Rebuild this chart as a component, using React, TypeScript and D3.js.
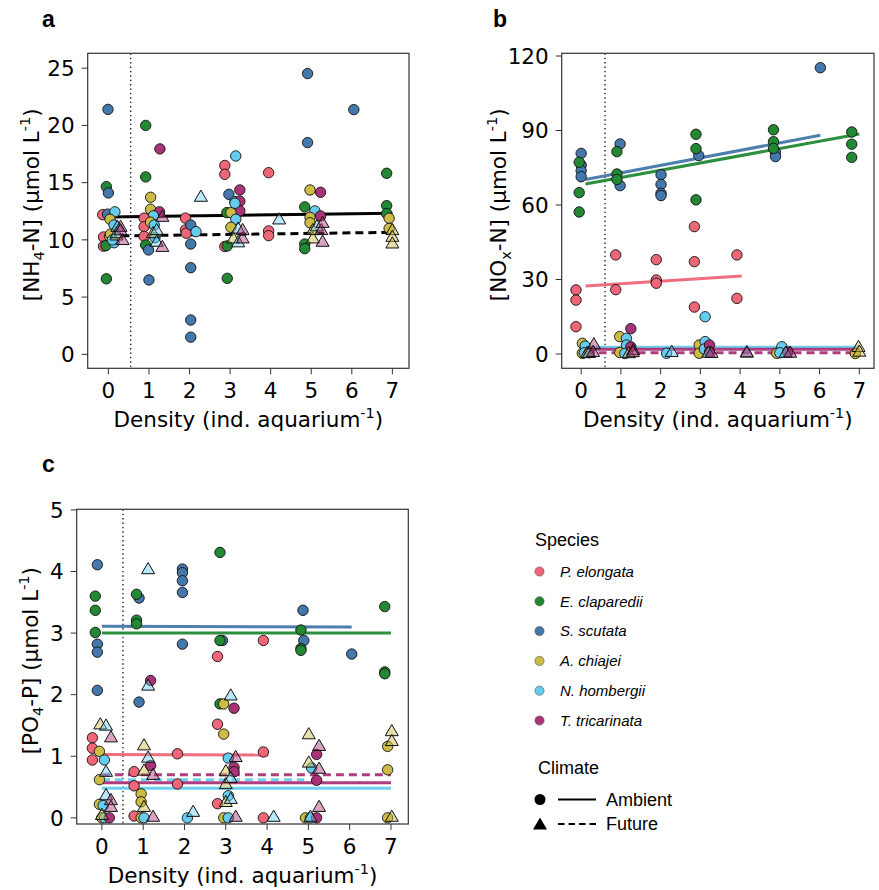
import React from "react";
import * as d3 from "d3";

// Species (order used as index in point arrays)
const speciesNames = ["P. elongata", "E. claparedii", "S. scutata", "A. chiajei", "N. hombergii", "T. tricarinata"];
const speciesColors = ["#EE6677", "#228833", "#4477AA", "#CCBB44", "#66CCEE", "#AA3377"];
const densityTicks = [0, 1, 2, 3, 4, 5, 6, 7];

// [species, density (jittered), value]
const nh4Ambient: [number, number, number][] = [
  [2, -0.01, 21.4], [1, -0.05, 14.65], [2, 0, 14.1], [1, -0.05, 6.6], [0, -0.14, 12.2], [2, -0.02, 12.25], [4, 0.16, 12.45],
  [3, 0.04, 11.8], [4, 0.14, 11.3], [0, -0.12, 10.25], [3, 0.03, 10.3], [0, -0.12, 9.45], [1, -0.06, 9.5], [4, 0.14, 9.75],
  [3, 0.05, 10.5], [4, 0.1, 10.0],
  [1, 0.92, 20.0], [1, 0.92, 15.5], [5, 1.27, 17.95], [3, 1.04, 13.72], [3, 1.04, 12.67], [5, 1.26, 12.45], [4, 1.11, 12.1],
  [0, 0.88, 11.9], [0, 0.88, 11.15], [3, 1.04, 11.55], [4, 1.13, 11.3], [0, 0.88, 10.3], [1, 0.92, 9.55], [2, 0.99, 9.12],
  [2, 1.0, 6.5], [4, 1.15, 10.2],
  [0, 1.9, 11.9], [0, 1.9, 10.87], [0, 1.92, 10.58], [2, 2.03, 11.3], [4, 2.16, 10.72], [2, 2.03, 9.64], [2, 2.03, 7.57],
  [2, 2.03, 3.0], [2, 2.03, 1.5],
  [0, 2.87, 16.5], [0, 2.87, 15.73], [4, 3.14, 17.33], [2, 2.97, 13.98], [4, 3.12, 13.34], [5, 3.24, 14.36], [5, 3.24, 13.37],
  [5, 3.24, 12.53], [1, 2.92, 12.38], [3, 3.02, 12.38], [4, 3.14, 11.8], [3, 3.02, 11.1], [0, 2.87, 9.42], [1, 2.93, 9.47],
  [1, 2.93, 6.64], [4, 3.12, 13.2],
  [0, 3.95, 15.87], [0, 3.95, 10.78], [0, 3.95, 10.37],
  [2, 4.91, 24.53], [2, 4.91, 18.5], [3, 4.97, 14.36], [5, 5.23, 14.16], [1, 4.84, 12.88], [4, 5.09, 12.53], [3, 4.97, 11.97],
  [5, 5.23, 12.09], [3, 4.97, 11.5], [1, 4.84, 9.64], [1, 4.84, 9.23],
  [2, 6.05, 21.38],
  [1, 6.86, 15.82], [1, 6.86, 12.99], [1, 6.86, 12.3], [3, 6.92, 11.89], [3, 6.92, 11.0],
];
const nh4Future: [number, number, number][] = [
  [3, 0.2, 10.4], [4, 0.2, 10.6], [4, 0.22, 11.15], [5, 0.3, 11.15], [5, 0.3, 10.85], [5, 0.35, 10.0],
  [3, 1.1, 10.6], [5, 1.33, 12.03], [4, 1.19, 10.87], [4, 1.19, 9.85], [5, 1.33, 9.4],
  [4, 2.28, 13.78],
  [3, 3.08, 10.14], [4, 3.2, 9.8], [4, 3.2, 11.0], [5, 3.31, 10.14], [5, 3.31, 10.87],
  [4, 4.21, 11.8],
  [3, 5.04, 10.14], [3, 5.04, 10.87], [4, 5.14, 11.2], [5, 5.25, 10.87], [5, 5.28, 9.85], [5, 5.28, 11.5],
  [3, 7.0, 10.87], [3, 7.0, 10.28], [3, 7.0, 9.7],
];
const noxAmbient: [number, number, number][] = [
  [2, 0, 80.8], [2, 0, 76.1], [2, 0, 73.8], [2, 0, 71.4], [2, 0.98, 84.6], [2, 0.98, 67.8], [2, 2.01, 72.2], [2, 2.01, 68.3],
  [2, 2.01, 64.7], [2, 2.01, 63.8], [2, 2.96, 79.9], [2, 4.89, 81.2], [2, 4.89, 79.5], [2, 6.02, 115.3],
  [1, -0.05, 77.2], [1, -0.05, 65.0], [1, -0.05, 57.2], [1, 0.9, 81.5], [1, 0.9, 72.5], [1, 0.9, 70.3], [1, 2.89, 88.5],
  [1, 2.89, 82.7], [1, 2.89, 62.1], [1, 4.84, 90.3], [1, 4.84, 85.5], [1, 4.84, 82.8], [1, 6.81, 89.4], [1, 6.81, 84.5], [1, 6.81, 79.2],
  [0, -0.13, 25.8], [0, -0.13, 21.7], [0, -0.13, 11.0], [0, 0.87, 39.9], [0, 0.87, 25.9], [0, 1.89, 38.0], [0, 1.89, 29.8],
  [0, 1.89, 28.5], [0, 2.85, 51.3], [0, 2.85, 37.2], [0, 2.85, 18.9], [0, 3.92, 39.9], [0, 3.92, 22.4],
  [3, 0.03, 4.3], [3, 0.03, 0.3], [3, 0.97, 7.0], [3, 0.97, 0.6], [3, 2.97, 3.6], [3, 2.97, 0.3], [3, 4.92, 0.3], [3, 6.9, 0.2],
  [4, 3.12, 15.0], [4, 0.1, 3.2], [4, 0.08, 0.5], [4, 1.14, 6.3], [4, 1.14, 3.6], [4, 1.1, 0.2], [4, 2.15, 0.3], [4, 3.12, 5.0],
  [4, 3.1, 2.0], [4, 5.05, 2.9], [4, 5.0, 0.5],
  [5, 1.25, 10.2], [5, 1.25, 2.9], [5, 3.23, 3.6], [5, 3.23, 0.8], [5, 0.2, 0.5], [5, 5.2, 0.8],
];
const noxFuture: [number, number, number][] = [
  [3, 0.15, 0.5], [4, 0.2, 0.5], [5, 0.32, 4.0], [5, 0.3, 0.9],
  [3, 1.2, 0.4], [5, 1.31, 1.6], [5, 1.3, 0.8],
  [4, 2.28, 0.9],
  [4, 3.2, 0.6], [5, 3.28, 0.5],
  [4, 4.17, 0.7], [5, 4.17, 0.7],
  [4, 5.15, 0.6], [5, 5.26, 0.6],
  [3, 6.98, 2.9], [3, 7.0, 1.0],
];
const po4Ambient: [number, number, number][] = [
  [2, -0.11, 4.11], [2, -0.11, 2.82], [2, -0.11, 2.69], [2, -0.11, 2.07], [2, 0.9, 3.57], [2, 0.9, 1.88], [2, 1.95, 4.04],
  [2, 1.95, 3.98], [2, 1.95, 3.85], [2, 1.95, 3.66], [2, 1.95, 2.82], [2, 2.92, 2.88], [2, 4.87, 3.37], [2, 4.89, 2.88], [2, 6.05, 2.66],
  [1, -0.16, 3.6], [1, -0.16, 3.37], [1, -0.16, 3.01], [1, 0.84, 3.63], [1, 0.84, 3.21], [1, 0.84, 3.15], [1, 2.86, 4.31],
  [1, 2.86, 2.88], [1, 2.86, 1.85], [1, 4.82, 3.05], [1, 4.82, 2.75], [1, 4.82, 2.72], [1, 6.85, 3.43], [1, 6.85, 2.37], [1, 6.85, 2.34],
  [0, -0.23, 1.3], [0, -0.23, 1.13], [0, -0.23, 0.94], [0, 0.78, 0.75], [0, 0.78, 0.52], [0, 0.78, 0.03], [0, 1.83, 1.04],
  [0, 1.83, 0.55], [0, 2.8, 2.62], [0, 2.8, 1.52], [0, 2.8, 0.23], [0, 3.91, 2.88], [0, 3.91, 1.07], [0, 3.91, 0.0],
  [3, -0.06, 1.08], [3, -0.06, 0.62], [3, -0.06, 0.22], [3, 0.0, 0.0], [3, 0.95, 0.39], [3, 0.95, 0.26], [3, 0.95, 0.0],
  [3, 2.95, 1.85], [3, 2.95, 1.36], [3, 2.95, 0.0], [3, 4.93, 0.0], [3, 6.92, 1.16], [3, 6.92, 0.78], [3, 6.92, 0.0],
  [4, 0.06, 0.94], [4, 0.03, 0.2], [4, 0.06, 0.0], [4, 1.02, 0.0], [4, 2.07, 0.0], [4, 3.06, 0.97], [4, 3.06, 0.36],
  [4, 3.06, 0.0], [4, 5.08, 0.81], [4, 5.05, 0.0],
  [5, 0.18, 0.0], [5, 1.18, 2.23], [5, 1.18, 0.85], [5, 3.2, 1.78], [5, 3.2, 0.82], [5, 3.2, 0.75], [5, 5.2, 1.03],
  [5, 5.2, 0.61], [5, 5.2, 0.0],
];
const po4Future: [number, number, number][] = [
  [3, -0.04, 1.52], [3, 1.02, 1.18], [3, 1.02, 0.77], [3, 1.02, 0.18], [3, 3.0, 0.76], [3, 3.0, 0.55], [3, 3.0, 0.26],
  [3, 5.01, 1.36], [3, 5.01, 0.9], [3, 7.02, 1.41], [3, 7.02, 1.25], [3, 7.02, 0.02], [3, 0.0, 0.05],
  [4, 0.1, 1.5], [4, 0.1, 0.75], [4, 0.1, 0.37], [4, 1.12, 4.04], [4, 1.12, 2.15], [4, 1.12, 0.98], [4, 2.21, 0.1],
  [4, 3.12, 1.99], [4, 3.12, 0.65], [4, 3.12, 0.31], [4, 4.16, 0.02], [4, 5.05, 0.02],
  [5, 0.22, 1.31], [5, 0.22, 0.29], [5, 0.22, 0.18], [5, 1.24, 0.7], [5, 1.24, 0.02], [5, 3.24, 0.99], [5, 3.24, 0.02],
  [5, 5.26, 1.17], [5, 5.26, 0.8], [5, 5.26, 0.18],
];

// Fitted lines: [species (-1 = all), climate, x0, y0, x1, y1]
const nh4Lines: [number, string, number, number, number, number][] = [
  [-1, "A", 0, 12.0, 7, 12.33],
  [-1, "F", 0, 10.34, 7, 10.66],
];
const noxLines: [number, string, number, number, number, number][] = [
  [1, "A", 0.11, 68.5, 7, 88.6],
  [2, "A", 0.11, 70.3, 6.02, 88.1],
  [0, "A", 0.11, 27.4, 4.04, 31.4],
  [4, "A", 0.11, 2.7, 7, 2.7],
  [5, "A", 0.11, 1.9, 7, 1.9],
  [5, "F", 0.11, 0.5, 7, 0.5],
];
const po4Lines: [number, string, number, number, number, number][] = [
  [2, "A", 0, 3.11, 6.05, 3.1],
  [1, "A", 0, 3.0, 7, 3.0],
  [0, "A", 0, 1.03, 4.03, 1.02],
  [5, "F", 0, 0.7, 7, 0.7],
  [4, "F", 0, 0.62, 4.9, 0.62],
  [5, "A", 0, 0.57, 7, 0.57],
  [4, "A", 0, 0.48, 7, 0.48],
];

const nh4Ticks = [0, 5, 10, 15, 20, 25];
const noxTicks = [0, 30, 60, 90, 120];
const po4Ticks = [0, 1, 2, 3, 4, 5];

const FONT = "DejaVu Sans, Verdana, sans-serif";
const LFONT = "Liberation Sans, Arial, sans-serif";
const TICK_FS = 21.5;
const LAB_FS = 21.5;
const SUP_FS = 14.5;

type Panel = {
  letter: string;
  letterX: number;
  letterY: number;
  box: { l: number; r: number; t: number; b: number };
  xDom: [number, number];
  yDom: [number, number];
  yTicks: number[];
  dotted: number;
  ambient: [number, number, number][];
  future: [number, number, number][];
  lines: [number, string, number, number, number, number][];
  yLabel: { pre: string; sub: string; post: string };
  yLabelX: number;
};

const panels: Panel[] = [
  {
    letter: "a", letterX: 42, letterY: 27,
    box: { l: 87.7, r: 409, t: 53.3, b: 368.3 },
    xDom: [-0.51, 7.41], yDom: [-1.22, 26.3], yTicks: nh4Ticks, dotted: 0.55,
    ambient: nh4Ambient, future: nh4Future, lines: nh4Lines,
    yLabel: { pre: "[NH", sub: "4", post: "-N] (μmol L" }, yLabelX: 39,
  },
  {
    letter: "b", letterX: 493, letterY: 27,
    box: { l: 561.7, r: 874, t: 53.3, b: 368.3 },
    xDom: [-0.49, 7.37], yDom: [-5.76, 121.1], yTicks: noxTicks, dotted: 0.6,
    ambient: noxAmbient, future: noxFuture, lines: noxLines,
    yLabel: { pre: "[NO", sub: "x", post: "-N] (μmol L" }, yLabelX: 506,
  },
  {
    letter: "c", letterX: 42, letterY: 472,
    box: { l: 76.7, r: 408.3, t: 509.3, b: 824 },
    xDom: [-0.61, 7.42], yDom: [-0.1, 5.01], yTicks: po4Ticks, dotted: 0.51,
    ambient: po4Ambient, future: po4Future, lines: po4Lines,
    yLabel: { pre: "[PO", sub: "4", post: "-P] (μmol L" }, yLabelX: 38,
  },
];

function tri(cx: number, cy: number, s = 6.5) {
  return `M${cx},${cy - s}L${cx + s},${cy + s * 0.72}L${cx - s},${cy + s * 0.72}Z`;
}

function PanelView({ p }: { p: Panel }) {
  const { l, r, t, b } = p.box;
  const x = d3.scaleLinear().domain(p.xDom).range([l, r]);
  const y = d3.scaleLinear().domain(p.yDom).range([b, t]);
  const line = d3.line<[number, number]>().x((d) => x(d[0])).y((d) => y(d[1]));
  const cx = (l + r) / 2;
  const cy = (t + b) / 2 - 6;
  return (
    <g>
      <text x={p.letterX} y={p.letterY} fontFamily={LFONT} fontWeight="bold" fontSize={23}>{p.letter}</text>
      <rect x={l} y={t} width={r - l} height={b - t} fill="#fff" stroke="none" />
      <line x1={x(p.dotted)} x2={x(p.dotted)} y1={t} y2={b} stroke="#222" strokeWidth={1.4} strokeDasharray="1.4,3" />
      {p.lines.map((ln, i) => (
        <path
          key={"l" + i}
          d={line([[ln[2], ln[3]], [ln[4], ln[5]]]) || ""}
          stroke={ln[0] < 0 ? "#000" : speciesColors[ln[0]]}
          strokeWidth={3}
          strokeDasharray={ln[1] === "F" ? "8,5" : undefined}
          fill="none"
          opacity={ln[0] < 0 ? 1 : 0.95}
        />
      ))}
      {p.ambient.map((d, i) => (
        <circle key={"a" + i} cx={x(d[1])} cy={y(d[2])} r={5.2} fill={speciesColors[d[0]]} stroke="#111" strokeWidth={0.9} />
      ))}
      {p.future.map((d, i) => (
        <path key={"f" + i} d={tri(x(d[1]), y(d[2]))} fill={speciesColors[d[0]]} fillOpacity={0.45} stroke="#111" strokeWidth={1} />
      ))}
      <rect x={l} y={t} width={r - l} height={b - t} fill="none" stroke="#333" strokeWidth={1.2} />
      {densityTicks.map((v) => (
        <g key={"xt" + v}>
          <line x1={x(v)} x2={x(v)} y1={b} y2={b + 6} stroke="#333" strokeWidth={1} />
          <text x={x(v)} y={b + 30} textAnchor="middle" fontFamily={FONT} fontSize={TICK_FS}>{v}</text>
        </g>
      ))}
      {p.yTicks.map((v) => (
        <g key={"yt" + v}>
          <line x1={l - 6} x2={l} y1={y(v)} y2={y(v)} stroke="#333" strokeWidth={1} />
          <text x={l - 13} y={y(v)} dy="0.36em" textAnchor="end" fontFamily={FONT} fontSize={TICK_FS}>{v}</text>
        </g>
      ))}
      <text x={cx} y={b + 59} textAnchor="middle" fontFamily={FONT} fontSize={LAB_FS}>
        Density (ind. aquarium<tspan dy={-9} fontSize={SUP_FS}>-1</tspan><tspan dy={9}>)</tspan>
      </text>
      <text transform={`translate(${p.yLabelX},${cy}) rotate(-90)`} textAnchor="middle" fontFamily={FONT} fontSize={LAB_FS}>
        {p.yLabel.pre}<tspan dy={5} fontSize={SUP_FS}>{p.yLabel.sub}</tspan><tspan dy={-5}>{p.yLabel.post}</tspan>
        <tspan dy={-9} fontSize={SUP_FS}>-1</tspan><tspan dy={9}>)</tspan>
      </text>
    </g>
  );
}

function Legend() {
  const rowY = d3.range(speciesNames.length).map((i) => 571.5 + i * 29.8);
  return (
    <g fontFamily={LFONT}>
      <text x={535} y={546} fontSize={18}>Species</text>
      {speciesNames.map((n, i) => (
        <g key={n}>
          <circle cx={539.5} cy={rowY[i]} r={4.6} fill={speciesColors[i]} stroke="#555" strokeWidth={0.6} />
          <text x={560} y={rowY[i]} dy="0.35em" fontSize={15} fontStyle="italic">{n}</text>
        </g>
      ))}
      <text x={538} y={774} fontSize={18}>Climate</text>
      <circle cx={540} cy={799.5} r={5.5} fill="#000" />
      <line x1={558} x2={596} y1={799.5} y2={799.5} stroke="#000" strokeWidth={2.2} />
      <text x={606} y={799.5} dy="0.35em" fontSize={18}>Ambient</text>
      <path d={tri(540, 824.5, 7)} fill="#000" />
      <line x1={558} x2={596} y1={824} y2={824} stroke="#000" strokeWidth={2.2} strokeDasharray="6.5,4" />
      <text x={606} y={824} dy="0.35em" fontSize={18}>Future</text>
    </g>
  );
}

export default function App() {
  return (
    <svg width={879} height={890} style={{ position: "absolute", left: 0, top: 0, background: "#fff" }}>
      <rect width={879} height={890} fill="#fff" />
      {panels.map((p) => (
        <PanelView key={p.letter} p={p} />
      ))}
      <Legend />
    </svg>
  );
}
